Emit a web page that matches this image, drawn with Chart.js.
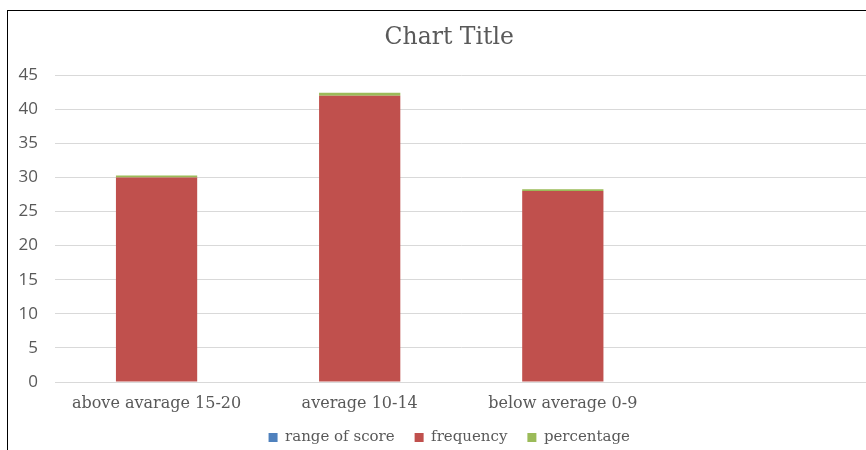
<!DOCTYPE html>
<html>
<head>
<meta charset="utf-8">
<script src="https://cdn.jsdelivr.net/npm/chart.js@4"></script>
<style>
  html, body { margin: 0; padding: 0; background: #fff; }
  body { width: 866px; height: 450px; position: relative; overflow: hidden; }
  #frame {
    position: absolute; left: 7px; top: 10px; width: 900px; height: 470px;
    border-left: 1px solid #000; border-top: 1px solid #000;
  }
  #wrap { position: absolute; left: 8px; top: 11px; width: 882px; height: 453px; }
</style>
</head>
<body>
<div id="frame"></div>
<div id="wrap"><canvas id="c"></canvas></div>
<script>
// Score groups and their counts
const categories = ['above avarage 15-20', 'average 10-14', 'below average 0-9', ''];
const rangeOfScore = [0, 0, 0, null];
const frequency = [30, 42, 28, null];
const percentage = [0.3, 0.42, 0.28, null];
const yTicks = [0, 5, 10, 15, 20, 25, 30, 35, 40, 45];

const grey = '#595959';
const serif = 'DejaVu Serif';

// Centre the title and legend on the full chart width, and pull the legend
// row up a little closer to the category labels
const boxNudge = {
  id: 'boxNudge',
  afterLayout(chart) {
    const dx = 11.5;
    const t = chart.titleBlock;
    if (t) { t.left += dx; t.right += dx; }
    const lg = chart.legend;
    if (lg) { lg.left += dx; lg.right += dx; lg.top -= 9; lg.bottom -= 9; }
  }
};

new Chart(document.getElementById('c'), {
  type: 'bar',
  data: {
    labels: categories,
    datasets: [
      { label: 'range of score', data: rangeOfScore, backgroundColor: '#4f81bd' },
      { label: 'frequency', data: frequency, backgroundColor: '#c0504d' },
      { label: 'percentage', data: percentage, backgroundColor: '#9bbb59' }
    ]
  },
  plugins: [boxNudge],
  options: {
    responsive: true,
    maintainAspectRatio: false,
    animation: false,
    layout: { padding: { left: 0, right: 22.5, top: 0, bottom: 0 } },
    datasets: { bar: { barPercentage: 0.4, categoryPercentage: 1.0 } },
    plugins: {
      title: {
        display: true,
        text: 'Chart Title',
        color: grey,
        font: { family: serif, size: 23.5, weight: 'normal' },
        padding: { top: 12.5, bottom: 23.5 }
      },
      legend: {
        position: 'bottom',
        labels: {
          color: grey,
          font: { family: serif, size: 15 },
          boxWidth: 9, boxHeight: 9, padding: 20
        }
      },
      tooltip: { enabled: false }
    },
    scales: {
      x: {
        stacked: true,
        grid: { display: false, drawTicks: false },
        border: { color: '#d9d9d9' },
        afterFit: s => { s.height = 37; },
        ticks: { color: grey, font: { family: serif, size: 16 }, padding: 12, maxRotation: 0 }
      },
      y: {
        stacked: true,
        min: 0, max: 45,
        afterBuildTicks: s => { s.ticks = yTicks.map(v => ({ value: v })); },
        afterFit: s => { s.width = 47; },
        grid: { color: '#d9d9d9', drawTicks: false },
        border: { display: false },
        ticks: { color: grey, font: { family: 'Open Sans', size: 17 }, padding: 17 }
      }
    }
  }
});
</script>
</body>
</html>
